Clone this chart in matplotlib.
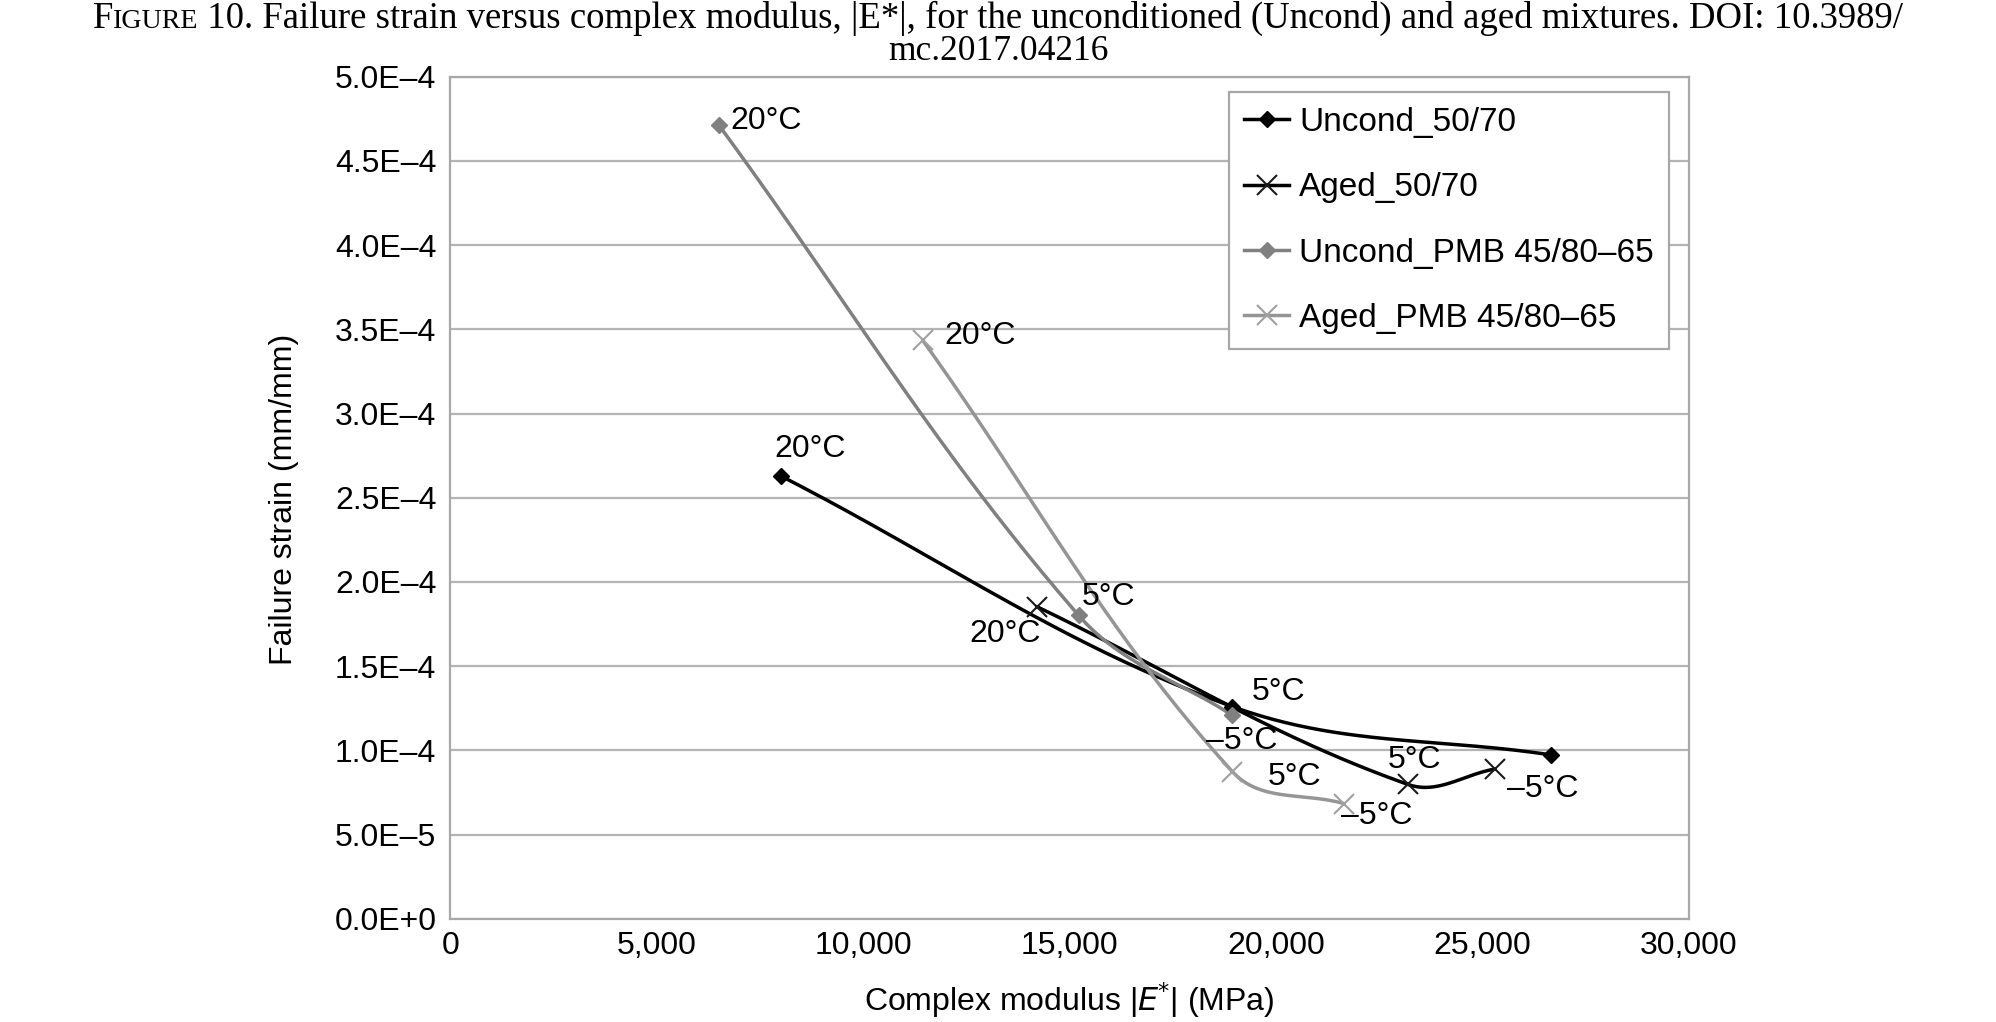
import numpy as np
import matplotlib
matplotlib.use("Agg")
import matplotlib.pyplot as plt
from matplotlib.lines import Line2D
from matplotlib import font_manager

# ---------------- data ----------------
uncond_5070_x = [8000, 18940, 26660]
uncond_5070_y = [2.63e-4, 1.26e-4, 0.973e-4]
uncond_5070_lbl = ["20°C", "5°C", ""]

aged_5070_x = [14200, 23190, 25290]
aged_5070_y = [1.854e-4, 0.798e-4, 0.889e-4]
aged_5070_lbl = ["20°C", "5°C", "–5°C"]

uncond_pmb_x = [6510, 15220, 18940]
uncond_pmb_y = [4.711e-4, 1.801e-4, 1.208e-4]
uncond_pmb_lbl = ["20°C", "5°C", "–5°C"]

aged_pmb_x = [11440, 18940, 21640]
aged_pmb_y = [3.435e-4, 0.874e-4, 0.684e-4]
aged_pmb_lbl = ["20°C", "5°C", "–5°C"]

series_names = ["Uncond_50/70", "Aged_50/70", "Uncond_PMB 45/80–65", "Aged_PMB 45/80–65"]

x_ticks = [0, 5000, 10000, 15000, 20000, 25000, 30000]
x_tick_labels = ["0", "5,000", "10,000", "15,000", "20,000", "25,000", "30,000"]
y_ticks = [0, 5e-5, 1e-4, 1.5e-4, 2e-4, 2.5e-4, 3e-4, 3.5e-4, 4e-4, 4.5e-4, 5e-4]
y_tick_labels = ["0.0E+0", "5.0E–5", "1.0E–4", "1.5E–4", "2.0E–4", "2.5E–4",
                 "3.0E–4", "3.5E–4", "4.0E–4", "4.5E–4", "5.0E–4"]

# ---------------- style ----------------
avail = {f.name for f in font_manager.fontManager.ttflist}
SANS = "Liberation Sans" if "Liberation Sans" in avail else "DejaVu Sans"
SERIF = "Liberation Serif" if "Liberation Serif" in avail else "DejaVu Serif"
plt.rcParams['font.family'] = [SANS, 'DejaVu Sans']
FS = 23

W, H = 1996, 1022
fig = plt.figure(figsize=(W / 100, H / 100), dpi=100)
ax = fig.add_axes([0.2256, 0.101, 0.8462 - 0.2256, 0.9249 - 0.101])
ax.set_xlim(0, 30000)
ax.set_ylim(0, 5e-4)
ax.set_xticks(x_ticks)
ax.set_xticklabels(x_tick_labels)
ax.set_yticks(y_ticks)
ax.set_yticklabels(y_tick_labels)
ax.tick_params(length=0, labelsize=FS, colors='black')
ax.tick_params(axis='y', pad=10)
ax.tick_params(axis='x', pad=9)
ax.yaxis.grid(True, color='#b4b4b4', lw=1.6)
ax.set_axisbelow(True)
for s in ax.spines.values():
    s.set_color('#a8a8a8')
    s.set_linewidth(1.6)


def smooth(xs, ys, f=0.36, n=80):
    """Excel-like smoothed line through the data points, built in display space (rendering only)."""
    P = ax.transData.transform(np.column_stack([xs, ys]).astype(float))
    m = len(P)
    T = []
    for i in range(m):
        a = P[i - 1] if i > 0 else P[i]
        b = P[i + 1] if i + 1 < m else P[i]
        d = b - a
        T.append(d / np.hypot(*d))
    out = [P[0]]
    for i in range(m - 1):
        p1, p2 = P[i], P[i + 1]
        L = np.hypot(*(p2 - p1))
        c1 = p1 + T[i] * L * f
        c2 = p2 - T[i + 1] * L * f
        t = np.linspace(0, 1, n)[1:, None]
        b = ((1 - t) ** 3) * p1 + 3 * ((1 - t) ** 2) * t * c1 + 3 * (1 - t) * t ** 2 * c2 + t ** 3 * p2
        out.extend(b)
    out = ax.transData.inverted().transform(np.array(out))
    return out[:, 0], out[:, 1]


specs = [
    (uncond_5070_x, uncond_5070_y, uncond_5070_lbl, '#000000', 'D', '#000000', 8, 1.0),
    (aged_5070_x, aged_5070_y, aged_5070_lbl, '#000000', 'x', '#1a1a1a', 14, 1.5),
    (uncond_pmb_x, uncond_pmb_y, uncond_pmb_lbl, '#808080', 'D', '#808080', 8.5, 1.0),
    (aged_pmb_x, aged_pmb_y, aged_pmb_lbl, '#959595', 'x', '#a0a0a0', 14, 1.5),
]

# label offsets in pixels (dx, dy) relative to each point, text left/center aligned
offsets = [
    [(-6, 27), (19, 15), (0, 0)],
    [(-67, -27), (-20, 24), (12, -20)],
    [(11, 4), (3, 18), (-26, -26)],
    [(22, 4), (35, -5), (-3, -12)],
]

handles = []
for k, (xs, ys, lbls, lc, mk, mc, ms, mew) in enumerate(specs):
    sx, sy = smooth(xs, ys)
    ax.plot(sx, sy, color=lc, lw=2.5, solid_capstyle='round', solid_joinstyle='round', zorder=3)
    ax.plot(xs, ys, ls='none', marker=mk, color=mc, markersize=ms, markeredgewidth=mew,
            zorder=4)
    for j, (x, y, t) in enumerate(zip(xs, ys, lbls)):
        if t:
            ax.annotate(t, (x, y), xytext=offsets[k][j], textcoords='offset pixels',
                        ha='left', va='center', fontsize=FS, zorder=5)
    handles.append(Line2D([0], [0], color=lc, lw=2.5, marker=mk, markerfacecolor=mc,
                          markeredgecolor=mc, markersize=ms, markeredgewidth=mew))

ax_l, ax_b, ax_w, ax_h = 0.2256 * W, 0.101 * H, 0.6206 * W, 0.8239 * H
leg = ax.legend(handles, series_names, loc='upper left',
                bbox_to_anchor=((1229 - ax_l) / ax_w, ((H - 92) - ax_b) / ax_h),
                fontsize=24, frameon=True, fancybox=False, edgecolor='#a8a8a8',
                framealpha=1, handlelength=1.35, handletextpad=0.3, labelspacing=1.03,
                borderpad=0.45, borderaxespad=0)
leg.get_frame().set_linewidth(1.6)

# axis labels
fig.text(284 / W, 1 - 499 / H, "Failure strain (mm/mm)", rotation=90, ha='center', va='center',
         fontsize=FS)
fig.text(1069 / W, 1 - 1000 / H, r"Complex modulus |$\it{E}$$^{*}$| (MPa)", ha='center', va='center',
         fontsize=FS)

# title with small caps "FIGURE"
fig.canvas.draw()
renderer = fig.canvas.get_renderer()
TFS = 26.5
parts = [("F", TFS), ("IGURE", TFS * 0.76),
         (" 10. Failure strain versus complex modulus, |E*|, for the unconditioned (Uncond) and aged mixtures. DOI: 10.3989/", TFS)]
texts = []
for s, fs in parts:
    t = fig.text(0, 1 - 28 / H, s, fontsize=fs, family=SERIF, ha='left', va='baseline')
    texts.append(t)
widths = [t.get_window_extent(renderer).width for t in texts]
x0 = (W - sum(widths)) / 2
for t, w in zip(texts, widths):
    t.set_x(x0 / W)
    x0 += w
fig.text(0.5, 1 - 60 / H, "mc.2017.04216", fontsize=25.5, family=SERIF, ha='center', va='baseline')

fig.savefig("out.png", dpi=100)
